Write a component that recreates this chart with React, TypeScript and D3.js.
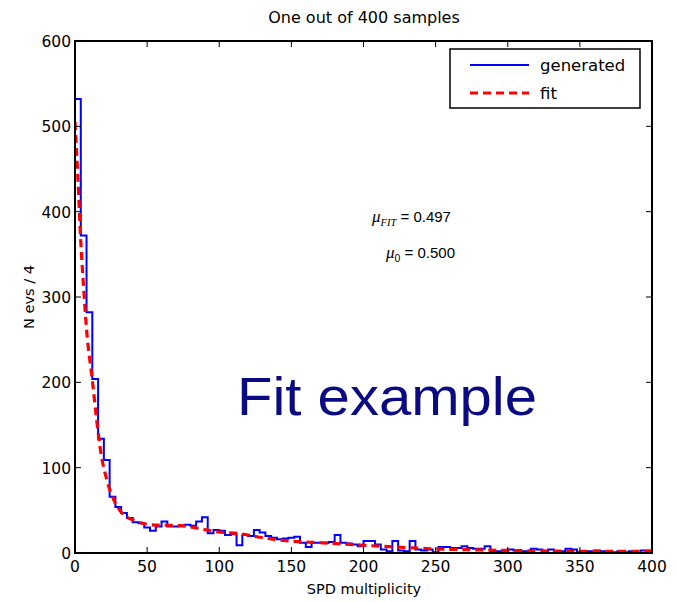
import React from "react";
import * as d3 from "d3";

const binWidth = 4;
const counts = [
  532, 372, 282, 204, 134, 109, 66, 54, 47, 41,
  36, 35, 30, 26, 31, 37, 31, 31, 32, 33,
  32, 37, 42, 23, 27, 26, 21, 22, 9, 21,
  20, 27, 24, 20, 18, 16, 17, 18, 19, 12,
  7, 12, 12, 12, 13, 21, 12, 11, 10, 8,
  14, 14, 10, 4, 2, 14, 3, 2, 14, 4,
  3, 4, 1, 7, 7, 6, 6, 8, 6, 5,
  5, 8, 2, 2, 3, 4, 3, 2, 2, 5,
  4, 2, 4, 2, 2, 5, 4, 1, 2, 2,
  3, 2, 2, 1, 2, 1, 2, 0, 3, 3,
];
const fitX = [0, 2, 4, 6, 8, 12, 15, 18, 22, 27, 33, 43, 53, 73, 85, 98, 117, 126, 138, 149, 170, 191, 211, 223, 246, 269, 300, 350, 400];
const fitY = [505, 440, 365, 310, 262, 203, 156, 117, 86, 62, 46, 37, 33, 32, 29, 25, 22, 19, 16, 14, 12, 10, 8, 7, 5, 4, 3, 2, 2];
const xTicks = [0, 50, 100, 150, 200, 250, 300, 350, 400];
const yTicks = [0, 100, 200, 300, 400, 500, 600];
const legendLabels = ["generated", "fit"];

const W = 677, H = 602;
const left = 75, right = 652, top = 41, bottom = 553;
const font = "'DejaVu Sans', sans-serif";

export default function App() {
  const x = d3.scaleLinear().domain([0, 400]).range([left, right]);
  const y = d3.scaleLinear().domain([0, 600]).range([bottom, top]);

  let hist = `M${x(0)},${y(0)}`;
  counts.forEach((c, i) => {
    hist += `V${y(c)}H${x((i + 1) * binWidth)}`;
  });
  hist += `V${y(0)}`;

  const fitLine = d3
    .line<number>()
    .x((_, i) => x(fitX[i]))
    .y((d) => y(d))
    .curve(d3.curveMonotoneX)(fitY) as string;

  return (
    <svg width={W} height={H} style={{ position: "absolute", left: 0, top: 0, background: "#fff" }}>
      <defs>
        <clipPath id="plot">
          <rect x={left} y={top} width={right - left} height={bottom - top} />
        </clipPath>
      </defs>
      <text x={364} y={23} textAnchor="middle" fontFamily={font} fontSize={16}>One out of 400 samples</text>
      <g clipPath="url(#plot)">
        <path d={hist} fill="none" stroke="#0000ff" strokeWidth={2} />
        <path d={fitLine} fill="none" stroke="#ff0000" strokeWidth={3.2} strokeDasharray="8,5" />
      </g>
      <rect x={left} y={top} width={right - left} height={bottom - top} fill="none" stroke="#000" strokeWidth={2} />
      {xTicks.map((t) => (
        <g key={"x" + t}>
          <line x1={x(t)} x2={x(t)} y1={bottom} y2={bottom - 6} stroke="#000" strokeWidth={1} />
          <line x1={x(t)} x2={x(t)} y1={top} y2={top + 6} stroke="#000" strokeWidth={1} />
          <text x={x(t)} y={bottom + 19} textAnchor="middle" fontFamily={font} fontSize={15.5}>{t}</text>
        </g>
      ))}
      {yTicks.map((t) => (
        <g key={"y" + t}>
          <line x1={left} x2={left + 6} y1={y(t)} y2={y(t)} stroke="#000" strokeWidth={1} />
          <line x1={right} x2={right - 6} y1={y(t)} y2={y(t)} stroke="#000" strokeWidth={1} />
          <text x={left - 4} y={y(t) + 6} textAnchor="end" fontFamily={font} fontSize={15.5}>{t}</text>
        </g>
      ))}
      <text x={364} y={594} textAnchor="middle" fontFamily={font} fontSize={14.5}>SPD multiplicity</text>
      <text transform={`translate(34,${(top + bottom) / 2}) rotate(-90)`} textAnchor="middle" fontFamily={font} fontSize={14.5}>N evs / 4</text>

      <rect x={450} y={49} width={190} height={59} fill="#fff" stroke="#000" strokeWidth={1.5} />
      <line x1={470} x2={529} y1={65} y2={65} stroke="#0000ff" strokeWidth={2} />
      <line x1={470} x2={529} y1={93} y2={93} stroke="#ff0000" strokeWidth={3.2} strokeDasharray="8,5" />
      <text x={540} y={71} fontFamily={font} fontSize={16.5}>{legendLabels[0]}</text>
      <text x={540} y={99} fontFamily={font} fontSize={16.5}>{legendLabels[1]}</text>

      <text x={372} y={222} fontFamily="'Liberation Sans', Arial, sans-serif" fontSize={15}>
        <tspan fontStyle="italic" fontFamily="'Liberation Serif', serif" fontSize={17}>μ</tspan>
        <tspan fontStyle="italic" fontFamily="'Liberation Serif', serif" fontSize={10.5} dy={4}>FIT</tspan>
        <tspan dy={-4}> = 0.497</tspan>
      </text>
      <text x={386} y={258} fontFamily="'Liberation Sans', Arial, sans-serif" fontSize={15}>
        <tspan fontStyle="italic" fontFamily="'Liberation Serif', serif" fontSize={17}>μ</tspan>
        <tspan fontSize={10.5} dy={4}>0</tspan>
        <tspan dy={-4}>  = 0.500</tspan>
      </text>

      <text x={237} y={415} fontFamily="'Liberation Sans', Arial, sans-serif" fontSize={54} textLength={300} lengthAdjust="spacingAndGlyphs" fill="#0a0a82">Fit example</text>
    </svg>
  );
}
